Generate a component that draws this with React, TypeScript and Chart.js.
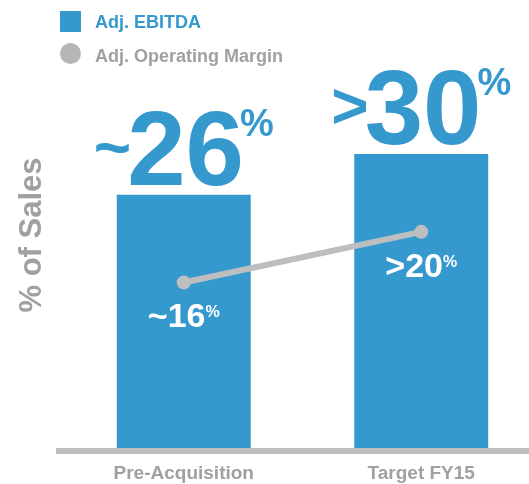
import React, { useEffect, useRef } from 'react';
import { Chart, registerables } from 'chart.js';

Chart.register(...registerables);

const categories = ['Pre-Acquisition', 'Target FY15'];
const ebitdaValues = [26, 30.2];
const marginValues = [17.0, 22.2];
const ebitdaPrefixes = ['~', '>'];
const ebitdaNumbers = ['26', '30'];
const marginPrefixes = ['~', '>'];
const marginNumbers = ['16', '20'];
const seriesNames = ['Adj. EBITDA', 'Adj. Operating Margin'];

const BLUE = '#3699ce';
const LINE_GRAY = '#bdbec0';
const TEXT_GRAY = '#a0a0a0';
const FONT = "'Liberation Sans', Arial, sans-serif";

function drawComposite(
  ctx: CanvasRenderingContext2D,
  cx: number,
  baseline: number,
  prefix: string,
  num: string,
  pfFs: number,
  numFs: number,
  pctFs: number,
  pfRise: number,
  pctRise: number,
  gap: number,
  color: string
) {
  ctx.save();
  ctx.fillStyle = color;
  ctx.textBaseline = 'alphabetic';
  ctx.textAlign = 'left';
  ctx.font = `bold ${pfFs}px ${FONT}`;
  const wp = ctx.measureText(prefix).width;
  ctx.font = `bold ${numFs}px ${FONT}`;
  const wn = ctx.measureText(num).width;
  ctx.font = `bold ${pctFs}px ${FONT}`;
  const ws = ctx.measureText('%').width;
  const total = wp + wn + ws + gap * 2;
  let x = cx - total / 2;
  ctx.font = `bold ${pfFs}px ${FONT}`;
  ctx.fillText(prefix, x, baseline - pfRise);
  x += wp + gap;
  ctx.font = `bold ${numFs}px ${FONT}`;
  ctx.fillText(num, x, baseline);
  x += wn + gap;
  ctx.font = `bold ${pctFs}px ${FONT}`;
  ctx.fillText('%', x, baseline - pctRise);
  ctx.restore();
}

const labelPlugin = {
  id: 'valueLabels',
  afterDatasetsDraw(chart: any) {
    const ctx = chart.ctx as CanvasRenderingContext2D;
    const barMeta = chart.getDatasetMeta(0);
    barMeta.data.forEach((el: any, i: number) => {
      drawComposite(ctx, el.x, el.y - 10, ebitdaPrefixes[i], ebitdaNumbers[i], 64, 105, 38, 16, 49, -4, BLUE);
    });
    const lineMeta = chart.getDatasetMeta(1);
    lineMeta.data.forEach((el: any, i: number) => {
      drawComposite(ctx, el.x, el.y + 45, marginPrefixes[i], marginNumbers[i], 34, 34, 16, 0, 10, 0, '#ffffff');
    });
    const area = chart.chartArea;
    ctx.save();
    ctx.fillStyle = LINE_GRAY;
    ctx.fillRect(area.left - 9, area.bottom, chart.width, 6);
    ctx.restore();
  },
  afterDraw(chart: any) {
    const ctx = chart.ctx as CanvasRenderingContext2D;
    const ds = chart.data.datasets;
    ctx.save();
    ctx.textBaseline = 'alphabetic';
    ctx.textAlign = 'left';
    ctx.font = `bold 18px ${FONT}`;
    ctx.fillStyle = ds[0].backgroundColor;
    ctx.fillRect(60, 11, 21, 21);
    ctx.fillText(ds[0].label, 95, 28);
    ctx.fillStyle = '#b5b6b8';
    ctx.beginPath();
    ctx.arc(70.5, 53.5, 10.5, 0, Math.PI * 2);
    ctx.fill();
    ctx.fillStyle = TEXT_GRAY;
    ctx.fillText(ds[1].label, 95, 61.5);
    ctx.restore();
  },
};

export default function App() {
  const canvasRef = useRef<HTMLCanvasElement | null>(null);

  useEffect(() => {
    if (!canvasRef.current) return;
    const chart = new Chart(canvasRef.current, {
      type: 'bar',
      data: {
        labels: categories,
        datasets: [
          {
            type: 'bar',
            label: seriesNames[0],
            data: ebitdaValues,
            backgroundColor: BLUE,
            borderWidth: 0,
            grouped: false,
            barPercentage: 0.564,
            categoryPercentage: 1,
            order: 2,
          } as any,
          {
            type: 'line',
            label: seriesNames[1],
            data: marginValues,
            borderColor: LINE_GRAY,
            borderWidth: 6,
            pointRadius: 7,
            pointBackgroundColor: LINE_GRAY,
            pointBorderWidth: 0,
            fill: false,
            order: 1,
          } as any,
        ],
      },
      options: {
        responsive: false,
        animation: false,
        layout: { padding: { top: 22, left: 0, right: 0, bottom: 0 } },
        plugins: {
          legend: { display: false },
          tooltip: { enabled: false },
        },
        scales: {
          x: {
            offset: true,
            grid: { display: false, drawTicks: false },
            border: { display: false },
            ticks: {
              color: TEXT_GRAY,
              padding: 14,
              font: { family: FONT, size: 19, weight: 'bold' },
            },
            afterFit: (scale: any) => {
              scale.height = 36;
            },
          },
          y: {
            min: 0,
            max: 43.75,
            grid: { display: false, drawTicks: false },
            border: { display: false },
            ticks: { display: false },
            title: {
              display: true,
              text: '% of Sales',
              color: TEXT_GRAY,
              padding: { top: 14, bottom: 0 },
              font: { family: FONT, size: 31, weight: 'bold' },
            },
            afterFit: (scale: any) => {
              scale.width = 65;
            },
          },
        },
      } as any,
      plugins: [labelPlugin],
    });
    return () => chart.destroy();
  }, []);

  return (
    <div style={{ position: 'fixed', left: 0, top: 0, width: 529, height: 484, overflow: 'hidden', background: '#ffffff' }}>
      <canvas ref={canvasRef} width={547} height={484} style={{ display: 'block' }} />
    </div>
  );
}
